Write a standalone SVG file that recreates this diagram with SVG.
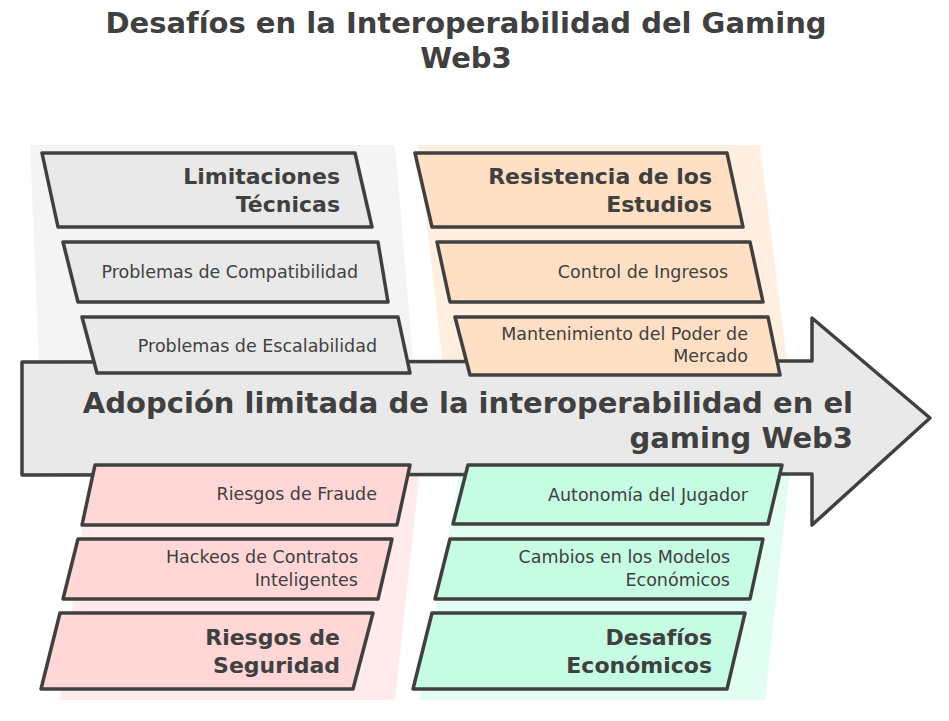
<svg xmlns="http://www.w3.org/2000/svg" width="949" height="721" viewBox="0 0 949 721">
<style>
.box{stroke:#404040;stroke-width:3.5;stroke-linejoin:round;stroke-linecap:round}
.g{fill:#e9e9e9}.o{fill:#ffe0c4}.p{fill:#ffd7d7}.m{fill:#c6fbe4}
.bg{stroke:none;opacity:0.5}
.t{font-family:"DejaVu Sans","Open Sans",sans-serif;font-size:17.5px;fill:#404040;text-anchor:end}
.h{font-family:"DejaVu Sans","Noto Sans",sans-serif;font-weight:bold;font-size:22px;fill:#404040;text-anchor:end}
.c{font-family:"DejaVu Sans","Noto Sans",sans-serif;font-weight:bold;font-size:29px;fill:#404040;text-anchor:end}
.ti{font-family:"DejaVu Sans","Noto Sans",sans-serif;font-weight:bold;font-size:29px;fill:#404040;text-anchor:middle}
</style>
<rect width="949" height="721" fill="#ffffff"/>
<g id="title"><text class="ti" x="466" y="33">Desafíos en la Interoperabilidad del Gaming</text><text class="ti" x="466" y="68">Web3</text></g>
<g id="backgrounds">
<polygon class="bg g" points="30,145 395,145 415,385 40,385"/>
<polygon class="bg o" points="418,145 760,145 790,385 445,385"/>
<polygon class="bg p" points="90,470 420,470 395,700 60,700"/>
<polygon class="bg m" points="460,470 790,470 765,700 420,700"/>
</g>
<g id="spine">
<polygon class="box g" points="22,362 812,361 812,318 930,418 812,525 812,474 22,475"/>
<text class="c" x="853" y="413">Adopción limitada de la interoperabilidad en el</text>
<text class="c" x="853" y="448">gaming Web3</text>
</g>
<g id="connectors"></g>
<g id="limitaciones-tecnicas"><polygon class="box g" points="42,153 355,153 372,227 58,227"/><text class="h" x="340" y="184">Limitaciones</text><text class="h" x="340" y="212">Técnicas</text></g>
<g id="problemas-compatibilidad"><polygon class="box g" points="63,242 378,242 388,302 78,302"/><text class="t" x="358" y="278">Problemas de Compatibilidad</text></g>
<g id="problemas-escalabilidad"><polygon class="box g" points="82,317 398,317 410,373 97,373"/><text class="t" x="377" y="352">Problemas de Escalabilidad</text></g>
<g id="resistencia-estudios"><polygon class="box o" points="415,153 727,153 743,227 432,227"/><text class="h" x="712" y="184">Resistencia de los</text><text class="h" x="712" y="212">Estudios</text></g>
<g id="control-ingresos"><polygon class="box o" points="437,242 750,242 763,302 450,302"/><text class="t" x="728" y="278">Control de Ingresos</text></g>
<g id="mantenimiento-poder"><polygon class="box o" points="455,317 768,317 780,375 470,375"/><text class="t" x="748" y="340">Mantenimiento del Poder de</text><text class="t" x="748" y="362">Mercado</text></g>
<g id="riesgos-fraude"><polygon class="box p" points="95,465 410,465 397,525 82,525"/><text class="t" x="377" y="500">Riesgos de Fraude</text></g>
<g id="hackeos-contratos"><polygon class="box p" points="78,539 392,539 378,599 63,599"/><text class="t" x="358" y="563">Hackeos de Contratos</text><text class="t" x="358" y="586">Inteligentes</text></g>
<g id="riesgos-seguridad"><polygon class="box p" points="60,613 373,613 353,689 41,689"/><text class="h" x="340" y="645">Riesgos de</text><text class="h" x="340" y="673">Seguridad</text></g>
<g id="autonomia-jugador"><polygon class="box m" points="468,465 782,465 768,524 453,524"/><text class="t" x="748" y="501">Autonomía del Jugador</text></g>
<g id="cambios-modelos"><polygon class="box m" points="450,539 763,539 750,599 435,599"/><text class="t" x="730" y="563">Cambios en los Modelos</text><text class="t" x="730" y="586">Económicos</text></g>
<g id="desafios-economicos"><polygon class="box m" points="432,613 745,613 727,689 413,689"/><text class="h" x="712" y="645">Desafíos</text><text class="h" x="712" y="673">Económicos</text></g>
</svg>
